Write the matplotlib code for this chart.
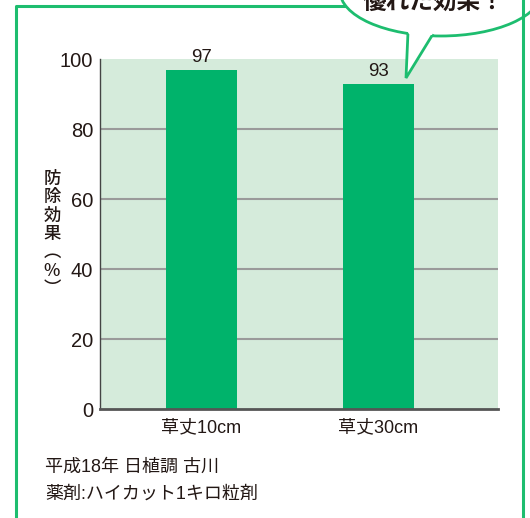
import numpy as np
import matplotlib.pyplot as plt
from matplotlib.patches import Ellipse, Polygon

plt.rcParams['font.family'] = ['Liberation Sans', 'Noto Sans CJK JP', 'DejaVu Sans']

#- datos
categorias = ['草丈10cm', '草丈30cm']
valores = [97, 93]
yticks = [0, 20, 40, 60, 80, 100]
ylabel = '防\n除\n効\n果\n︵\n%\n︶'
nota1 = '平成18年 日植調 古川'
nota2 = '薬剤:ハイカット1キロ粒剤'
globo = '優れた効果！'

verde = '#00b36b'
verde_borde = '#1dbd6f'
fondo = '#d5ebdb'
texto = '#231815'

fig = plt.figure(figsize=(5.3, 5.18), dpi=100)

#- grafico de barras
ax = fig.add_axes([0.1887, 0.2104, 0.7509, 0.6757])
ax.set_facecolor(fondo)
x = np.arange(len(categorias))
ax.bar(x, valores, width=0.4, color=verde, zorder=3)
for xi, v in zip(x, valores):
    ax.text(xi, v + 1.0, str(v), ha='center', va='bottom', fontsize=13.5, color=texto)
ax.set_xlim(-0.573, 1.675)
ax.set_ylim(0, 100)
ax.set_yticks(yticks)
ax.set_xticks(x)
ax.set_xticklabels(categorias, fontsize=13)
ax.tick_params(axis='y', length=0, labelsize=14.5, pad=5, labelcolor=texto)
ax.tick_params(axis='x', length=0, pad=7, labelcolor=texto)
for yv in yticks[1:-1]:
    ax.axhline(yv, color='#9a9a9a', lw=1.5, zorder=2)
for s in ['top', 'right']:
    ax.spines[s].set_visible(False)
ax.spines['left'].set_color('#444444')
ax.spines['left'].set_linewidth(1.0)
ax.spines['bottom'].set_color('#555555')
ax.spines['bottom'].set_linewidth(2.0)
ax.spines['left'].set_zorder(4)
ax.spines['bottom'].set_zorder(4)

#- capa de marco y globo en pixeles (encima)
bg = fig.add_axes([0, 0, 1, 1], zorder=5)
bg.set_xlim(0, 530)
bg.set_ylim(518, 0)
bg.axis('off')
bg.plot([16, 16, 345], [520, 6, 6], color=verde_borde, lw=2.2)
bg.plot([523, 523], [-2, 520], color=verde_borde, lw=2.2)
bg.add_patch(Ellipse((441, -9), 202, 90, facecolor='white', edgecolor=verde_borde, lw=2))
bg.add_patch(Polygon([[408, 32], [406, 78], [433, 34]], closed=False,
                     facecolor='white', edgecolor=verde_borde, lw=2))
bg.add_patch(Polygon([[406, 29], [409, 34], [432, 35], [435, 29]], closed=True,
                     facecolor='white', edgecolor='none'))
bg.text(434, 10, globo, ha='center', va='baseline', fontsize=17, fontweight='bold',
        color=texto)

fig.text(52 / 530, 1 - 234 / 518, ylabel, ha='center', va='center', fontsize=12.5,
         linespacing=1.02, color=texto, family=['Noto Sans CJK JP', 'DejaVu Sans'],
         fontweight='medium')

fig.text(45 / 530, 1 - 467 / 518, nota1, ha='left', va='center', fontsize=13, color=texto)
fig.text(45 / 530, 1 - 494 / 518, nota2, ha='left', va='center', fontsize=13, color=texto)

plt.savefig('out.png', dpi=100)
plt.close()
